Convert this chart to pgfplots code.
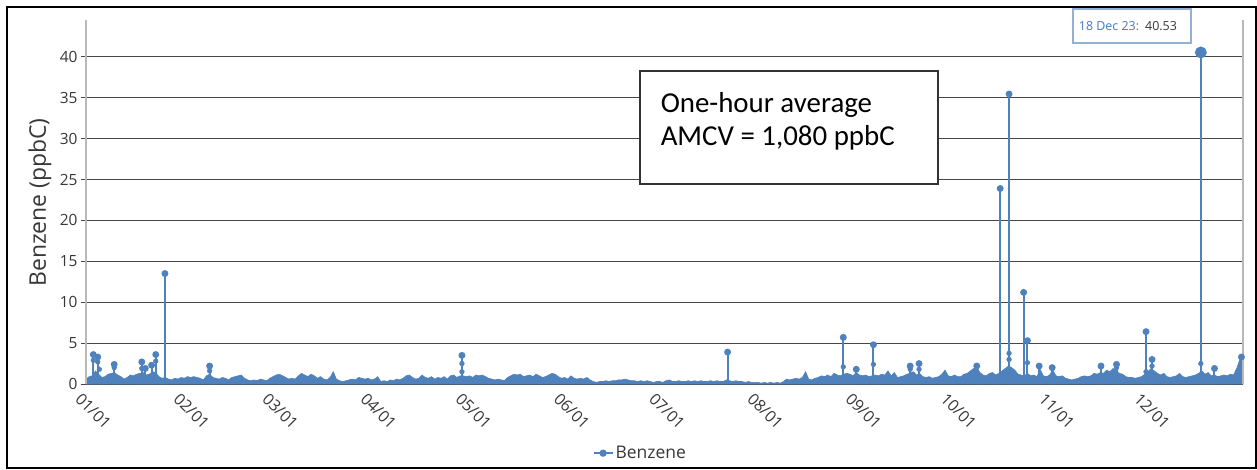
\documentclass[border=0pt]{standalone}
\usepackage{fontspec}
\setmainfont{Open Sans}
\newfontfamily\annfont{Carlito}
\usepackage{pgfplots}
\pgfplotsset{compat=1.18}

\definecolor{series}{RGB}{79,129,189}
\definecolor{gridc}{RGB}{70,70,70}
\definecolor{axisc}{RGB}{185,185,185}
\definecolor{labelc}{RGB}{55,55,55}
\definecolor{tipc}{RGB}{150,175,215}
\definecolor{tiptext}{RGB}{70,120,190}

\begin{document}
\begin{tikzpicture}
\begin{axis}[
  scale only axis, width=1157bp, height=364bp,
  xmin=0, xmax=365, ymin=0, ymax=44.5,
  clip=false,
  axis line style={draw=none},
  xtick={0,31,59,90,120,151,181,212,243,273,304,334},
  xticklabels={01/01,02/01,03/01,04/01,05/01,06/01,07/01,08/01,09/01,10/01,11/01,12/01},
  xtick style={draw=none},
  xticklabel style={rotate=-45, anchor=north west, xshift=-4bp, yshift=-1bp,
    font=\fontsize{16}{18}\selectfont, text=labelc},
  ytick={0,5,...,40},
  ytick pos=left, xtick pos=bottom,
  ytick style={gridc, line width=0.8bp},
  tick align=outside, major tick length=5bp,
  yticklabel style={font=\fontsize{15.5}{17}\selectfont, text=labelc},
  /pgf/number format/assume math mode=true,
  ymajorgrids, grid style={gridc, line width=0.8bp},
  legend style={at={(rel axis cs:0.479,-0.19)}, anchor=center, draw=none,
    font=\fontsize{17.5}{19}\selectfont, text=labelc},
  legend image code/.code={
    \draw[mark repeat=2, mark phase=2, line width=2bp, mark size=2.6bp]
      plot coordinates {(0bp,0bp) (9.5bp,0bp) (19bp,0bp)};},
]

% daily envelope of the hourly series
\addplot[fill=series, draw=series, line width=0.6bp, forget plot] coordinates {
(0,0.6)(1,0.9)(2,1.0)(3,1.6)(4,1.2)(5,0.8)(6,0.9)(7,1.2)(8,1.3)(9,1.4)
(10,1.1)(11,0.9)(12,0.6)(13,0.8)(14,1.1)(15,1.0)(16,1.2)(17,1.3)(18,1.4)(19,1.1)
(20,1.2)(21,1.5)(22,1.4)(23,0.9)(24,0.7)(25,0.8)(26,0.6)(27,0.5)(28,0.7)(29,0.6)
(30,0.8)(31,0.7)(32,0.9)(33,0.8)(34,0.9)(35,0.8)(36,0.7)(37,0.5)(38,1.0)(39,1.2)
(40,0.8)(41,0.7)(42,0.6)(43,0.8)(44,0.7)(45,0.5)(46,0.8)(47,0.9)(48,1.0)(49,1.1)
(50,0.7)(51,0.5)(52,0.4)(53,0.5)(54,0.4)(55,0.6)(56,0.5)(57,0.4)(58,0.7)(59,0.9)
(60,1.1)(61,1.2)(62,1.0)(63,0.8)(64,0.6)(65,0.7)(66,0.6)(67,1.0)(68,1.3)(69,1.1)
(70,0.9)(71,1.2)(72,1.0)(73,0.7)(74,0.9)(75,0.6)(76,0.5)(77,0.8)(78,1.5)(79,0.6)
(80,0.4)(81,0.3)(82,0.4)(83,0.5)(84,0.6)(85,0.5)(86,0.8)(87,0.7)(88,0.6)(89,0.7)
(90,0.5)(91,0.6)(92,0.9)(93,0.3)(94,0.4)(95,0.3)(96,0.5)(97,0.4)(98,0.6)(99,0.5)
(100,0.7)(101,1.0)(102,1.1)(103,0.8)(104,0.6)(105,0.7)(106,1.1)(107,0.8)(108,0.7)(109,0.9)
(110,0.6)(111,0.8)(112,0.7)(113,0.9)(114,0.6)(115,1.0)(116,1.1)(117,0.8)(118,1.0)(119,1.0)
(120,0.9)(121,1.0)(122,0.8)(123,1.1)(124,1.0)(125,1.1)(126,0.9)(127,0.7)(128,0.6)(129,0.5)
(130,0.6)(131,0.5)(132,0.4)(133,0.8)(134,1.0)(135,1.2)(136,1.1)(137,1.2)(138,0.9)(139,1.0)
(140,1.1)(141,0.9)(142,1.2)(143,1.0)(144,0.8)(145,0.9)(146,1.1)(147,1.3)(148,1.2)(149,0.9)
(150,0.7)(151,0.8)(152,0.6)(153,1.0)(154,0.7)(155,0.6)(156,0.7)(157,0.6)(158,0.8)(159,0.5)
(160,0.3)(161,0.2)(162,0.3)(163,0.3)(164,0.4)(165,0.3)(166,0.4)(167,0.4)(168,0.5)(169,0.5)
(170,0.6)(171,0.5)(172,0.4)(173,0.4)(174,0.3)(175,0.4)(176,0.3)(177,0.4)(178,0.3)(179,0.2)
(180,0.3)(181,0.3)(182,0.2)(183,0.4)(184,0.5)(185,0.3)(186,0.3)(187,0.4)(188,0.3)(189,0.3)
(190,0.4)(191,0.3)(192,0.4)(193,0.3)(194,0.4)(195,0.3)(196,0.3)(197,0.4)(198,0.3)(199,0.4)
(200,0.3)(201,0.3)(202,0.5)(203,0.4)(204,0.3)(205,0.4)(206,0.3)(207,0.3)(208,0.2)(209,0.3)
(210,0.2)(211,0.2)(212,0.2)(213,0.1)(214,0.2)(215,0.1)(216,0.2)(217,0.1)(218,0.2)(219,0.1)
(220,0.3)(221,0.6)(222,0.5)(223,0.6)(224,0.7)(225,0.6)(226,0.8)(227,1.5)(228,0.6)(229,0.5)
(230,0.7)(231,0.8)(232,1.0)(233,0.9)(234,1.1)(235,0.9)(236,1.3)(237,1.1)(238,1.0)(239,1.2)
(240,1.3)(241,1.2)(242,1.0)(243,1.4)(244,1.1)(245,1.0)(246,1.1)(247,0.9)(248,1.0)(249,1.1)
(250,1.0)(251,1.2)(252,1.1)(253,1.6)(254,1.0)(255,1.4)(256,0.8)(257,0.9)(258,1.0)(259,1.2)
(260,1.3)(261,1.5)(262,1.1)(263,1.3)(264,0.9)(265,0.8)(266,0.9)(267,0.7)(268,0.8)(269,0.9)
(270,1.2)(271,1.7)(272,1.0)(273,0.9)(274,1.1)(275,0.9)(276,0.9)(277,1.2)(278,1.3)(279,1.6)
(280,1.9)(281,2.1)(282,1.4)(283,1.1)(284,1.0)(285,1.3)(286,1.4)(287,1.1)(288,1.3)(289,1.6)
(290,1.9)(291,2.2)(292,2.0)(293,1.7)(294,1.2)(295,1.1)(296,1.0)(297,1.3)(298,1.0)(299,1.1)
(300,0.9)(301,1.8)(302,1.0)(303,0.9)(304,1.1)(305,1.7)(306,1.0)(307,0.9)(308,1.0)(309,0.7)
(310,0.6)(311,0.5)(312,0.6)(313,0.7)(314,0.9)(315,1.0)(316,0.9)(317,1.0)(318,1.3)(319,1.2)
(320,1.4)(321,1.3)(322,1.7)(323,1.5)(324,1.9)(325,1.6)(326,1.3)(327,1.2)(328,0.9)(329,0.8)
(330,0.8)(331,0.7)(332,0.8)(333,0.9)(334,1.2)(335,1.5)(336,1.9)(337,1.6)(338,1.3)(339,1.1)
(340,1.3)(341,0.9)(342,0.8)(343,0.9)(344,1.0)(345,1.3)(346,0.9)(347,0.8)(348,0.9)(349,1.0)
(350,1.1)(351,1.3)(352,1.6)(353,1.2)(354,1.4)(355,1.0)(356,1.1)(357,0.9)(358,1.0)(359,1.1)
(360,1.0)(361,1.2)(362,1.1)(363,1.9)(364,3.0)(365,3.3)
} \closedcycle;

% hourly peaks
\addplot[ycomb, draw=series, line width=2bp, mark=*, mark options={fill=series, draw=series}, mark size=2.4bp, forget plot] coordinates {
(2.3,3.6)(3.7,3.3)(8.9,2.4)(17.6,2.7)(18.7,1.9)(20.7,2.3)(22,3.6)(24.9,13.5)
(39,2.2)(118.6,3.5)(202.4,3.9)(238.9,5.7)(243,1.8)(248.4,4.8)(260,2.2)(262.8,2.5)
(281,2.2)(288.4,23.9)(291.2,35.45)(295.8,11.2)(297,5.3)(300.7,2.2)(304.8,2.0)
(320.2,2.2)(325.1,2.4)(334.4,6.4)(336.3,3.0)(356,1.9)(364.5,3.3)
};
\addplot[only marks, mark=*, mark options={fill=series, draw=series}, mark size=2.4bp, forget plot] coordinates {
(2.3,2.9)(3.7,2.7)(4.2,1.8)(8.9,2.0)(17.6,1.9)(22,2.8)(39,1.6)(118.6,2.5)(118.6,1.5)
(238.9,2.1)(248.4,2.4)(260,1.8)(262.8,1.8)(291.2,3.75)(291.2,3.0)(297,2.6)
(325.1,2.0)(334.4,1.5)(336.3,2.2)(351.7,2.5)
};
% highlighted point
\addplot[ycomb, draw=series, line width=2.2bp, mark=*, mark options={fill=series, draw=series}, mark size=4.8bp, forget plot] coordinates {
(351.7,40.53)
};
\addlegendimage{series, mark=*}
\addlegendentry{Benzene}

% axis lines
\draw[axisc, line width=1.2bp] (rel axis cs:0,1) -- (rel axis cs:0,0);
\draw[axisc, line width=1.2bp] (rel axis cs:1,1) -- (rel axis cs:1,0);

% y label
\node[rotate=90, font=\fontsize{23}{26}\selectfont, text=labelc]
  at ([xshift=-46bp]rel axis cs:0,0.4986) {Benzene (ppbC)};

% annotation box
\draw[fill=white, draw=black!80, line width=1.5bp]
  (rel axis cs:0.479,0.86) rectangle (rel axis cs:0.7363,0.5495);
\node[anchor=base west, inner sep=0pt, font=\annfont\fontsize{29}{32}\selectfont]
  at (rel axis cs:0.4966,0.7451) {One-hour average};
\node[anchor=base west, inner sep=0pt, font=\annfont\fontsize{29}{32}\selectfont]
  at (rel axis cs:0.4966,0.6547) {AMCV = 1,080 ppbC};

% tooltip
\draw[fill=white, draw=tipc, line width=1.3bp]
  (rel axis cs:0.853,1.03) rectangle (rel axis cs:0.955,0.937);
\node[anchor=base west, inner sep=0pt, font=\fontsize{12.5}{14}\selectfont]
  at (rel axis cs:0.858,0.9698) {\textcolor{tiptext}{18 Dec 23:}\hspace{6bp}\textcolor{labelc}{40.53}};

% outer frame and page extent
\path ([xshift=-86bp,yshift=20bp]rel axis cs:0,1) rectangle ([xshift=14bp,yshift=-86bp]rel axis cs:1,0);
\draw[black, line width=2bp] ([xshift=-79bp,yshift=13bp]rel axis cs:0,1) rectangle ([xshift=13bp,yshift=-84bp]rel axis cs:1,0);
\end{axis}
\end{tikzpicture}
\end{document}
